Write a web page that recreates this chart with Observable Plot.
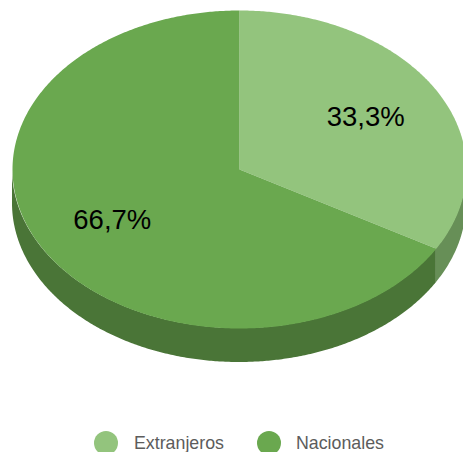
<!DOCTYPE html>
<html>
<head>
<meta charset="utf-8">
<script src="https://cdn.jsdelivr.net/npm/d3@7"></script>
<script src="https://cdn.jsdelivr.net/npm/@observablehq/plot@0.6"></script>
<style>
html,body{margin:0;padding:0;background:#fff;overflow:hidden}
#chart svg{overflow:hidden;display:block;max-width:none}
#legend{display:flex;justify-content:flex-start;align-items:center;position:absolute;left:94px;top:431px;height:24px;
font:17.8px "Liberation Sans",Arial,sans-serif;color:#5c5c5c}
#legend i{display:inline-block;width:24px;height:24px;border-radius:50%}
#legend span{margin-left:16px}
</style>
</head>
<body>
<div id="chart"></div>
<div id="legend"></div>
<script>
const categories = ["Extranjeros", "Nacionales"];
const shares = [33.3, 66.7];
const shareLabels = ["33,3%", "66,7%"];
const topColors = ["#93c47d", "#6aa84f"];
const sideColors = ["#678f57", "#4a7537"];
const depth = 34 / 159; // wall height, in ellipse radii

const total = d3.sum(shares);
const rad = d => d * Math.PI / 180;
let start = 0;
const slices = categories.map((name, i) => {
  const a0 = start, a1 = start + shares[i] / total * 360;
  start = a1;
  return {name, a0, a1, mid: (a0 + a1) / 2, label: shareLabels[i]};
});
const arc = (a0, a1) => {
  const n = Math.max(2, Math.ceil(a1 - a0) * 2);
  return d3.range(n + 1).map(k => a0 + (a1 - a0) * k / n);
};
const topPts = slices.flatMap(s => [
  {name: s.name, x: 0, y: 0},
  ...arc(s.a0, s.a1).map(a => ({name: s.name, x: Math.sin(rad(a)), y: Math.cos(rad(a))}))
]);
const wallPts = slices.flatMap(s => {
  const a0 = Math.max(s.a0, 90), a1 = Math.min(s.a1, 270);
  if (a1 <= a0) return [];
  return arc(a0, a1).map(a => ({name: s.name, x: Math.sin(rad(a)), y1: Math.cos(rad(a)), y2: Math.cos(rad(a)) - depth}));
});
const labels = slices.map(s => ({label: s.label, x: 0.645 * Math.sin(rad(s.mid)), y: 0.645 * Math.cos(rad(s.mid))}));

const plot = Plot.plot({
  width: 463, height: 425,
  margin: 0,
  x: {domain: [-1, 1], range: [12, 466], axis: null},
  y: {domain: [-1, 1], range: [328, 10], axis: null},
  color: {domain: categories, range: topColors},
  marks: [
    ...slices.map((s, i) => Plot.areaY(wallPts.filter(d => d.name === s.name), {
      x: "x", y1: "y1", y2: "y2", fill: sideColors[i], stroke: "none"
    })),
    Plot.line(topPts, {x: "x", y: "y", z: "name", fill: "name", stroke: "none"}),
    Plot.text(labels, {
      x: "x", y: "y", text: "label", fontSize: 27.5, fill: "#000", dx: -0.5, dy: -1,
      fontFamily: "Liberation Sans, Arial, sans-serif", textAnchor: "middle", lineAnchor: "middle"
    })
  ]
});
document.getElementById("chart").append(plot);

const legend = d3.select("#legend");
categories.forEach((name, i) => {
  const item = legend.append("div").style("display", "flex").style("align-items", "center")
    .style("margin-right", i === 0 ? "33px" : "0");
  item.append("i").style("background", topColors[i]);
  item.append("span").style("margin-left", i === 0 ? "16px" : "15px").text(name);
});
</script>
</body>
</html>
